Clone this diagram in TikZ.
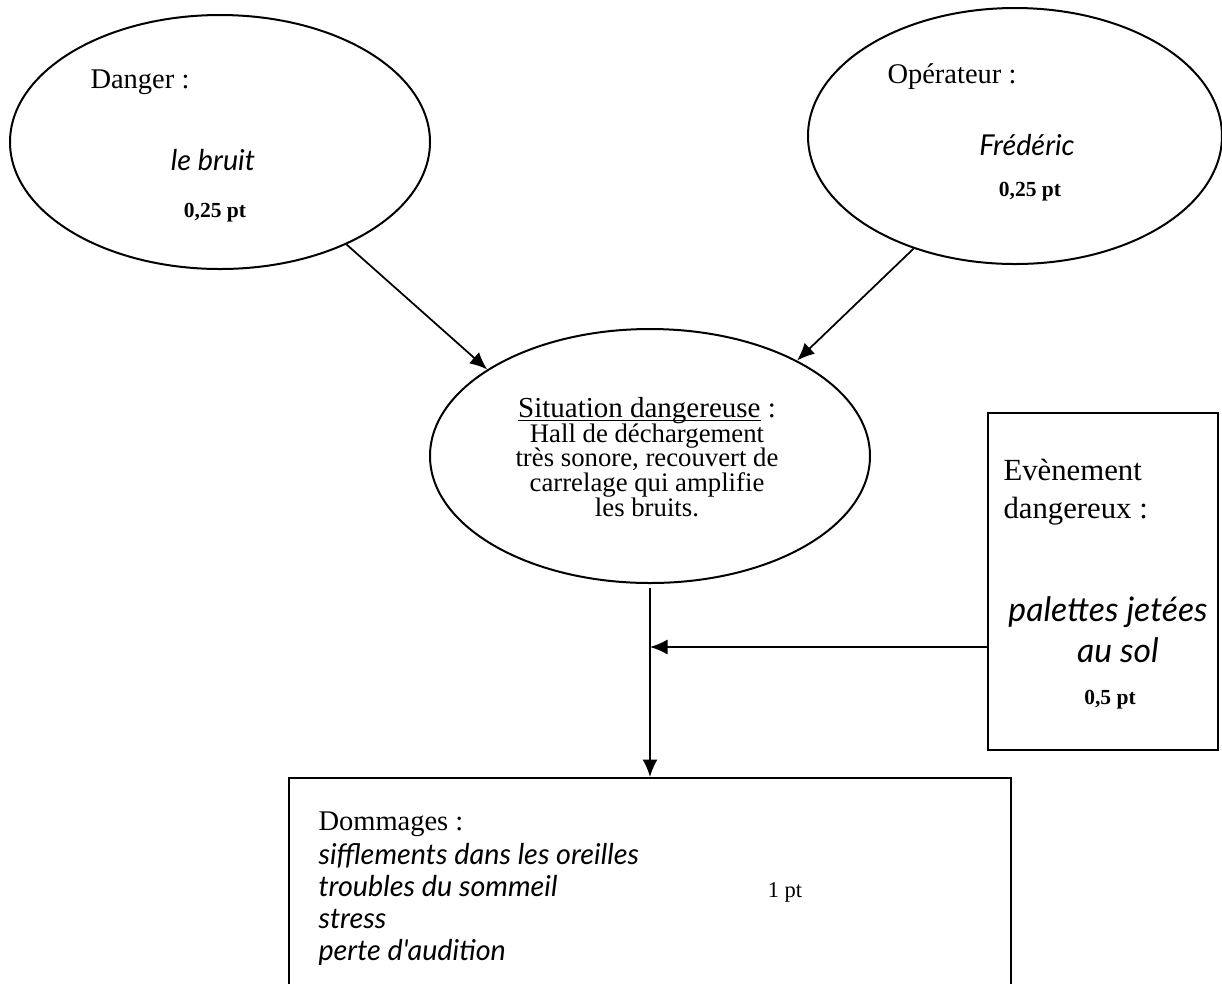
\documentclass[tikz,border=0pt]{standalone}
\usepackage{fontspec}
\setmainfont{Liberation Serif}
\newfontfamily\handfont{Lato}
\usetikzlibrary{shapes.geometric,arrows.meta,positioning}
\newcommand{\souligne}[1]{\setbox0\hbox{#1}\rlap{\rule[-1.5pt]{\wd0}{0.45pt}}\box0\relax}

\begin{document}
\begin{tikzpicture}[x=0.4pt,y=-0.4pt]
\tikzset{every node/.style={inner sep=0pt}}
\tikzset{bulle/.style={draw,ellipse,line width=0.8pt}}
\tikzset{cadre/.style={draw,rectangle,line width=0.8pt}}
\tikzset{fleche/.style={-{Latex[length=7pt,width=6pt]},line width=0.7pt}}
\tikzset{titre/.style={anchor=base west,font=\fontsize{11.4}{13}\selectfont}}
\tikzset{main/.style={font=\fontsize{11.5}{13}\selectfont\handfont\itshape}}
\tikzset{note/.style={font=\fontsize{8.6}{10}\selectfont\bfseries}}

\clip (0,0) rectangle (1222,983);

\node[bulle,minimum width=168pt,minimum height=101.6pt] (danger) at (220,142) {};
\node[bulle,minimum width=165.6pt,minimum height=102.4pt] (operateur) at (1015,136) {};
\node[bulle,minimum width=176pt,minimum height=101.6pt] (situation) at (650,456) {};
\node[cadre,minimum width=92pt,minimum height=134.8pt] (evenement) at (1103,581.5) {};
\node[cadre,minimum width=288.8pt,minimum height=104pt] (dommages) at (650,908) {};

\node[titre] (t-danger) at (90,88) {Danger :};
\node[main] (v-danger) at (213,160) {le bruit};
\node[note] (p-danger) at (215,213) {0,25 pt};

\node[titre] (t-operateur) at (887,83) {Opérateur :};
\node[main] (v-operateur) at (1027,145) {Frédéric};
\node[note] (p-operateur) at (1030,192) {0,25 pt};

\node[align=center,font={\fontsize{10.7}{9.9}\selectfont\lineskiplimit=-20pt}] (t-situation) at (647,457)
  {{\fontsize{11.6}{9.9}\selectfont\souligne{Situation dangereuse} :}\\
   Hall de déchargement\\très sonore, recouvert de\\carrelage qui amplifie\\les bruits.};

\node[titre,font=\fontsize{12.3}{14}\selectfont] (t-evenement) at (1003,480) {Evènement};
\node[titre,font=\fontsize{12.3}{14}\selectfont] (t-evenement2) at (1003,518) {dangereux :};
\node[main,font=\fontsize{13.5}{15}\selectfont\handfont\itshape] (v-evenement) at (1108,612) {palettes jetées};
\node[main,font=\fontsize{13.5}{15}\selectfont\handfont\itshape] (v-evenement2) at (1118,650) {au sol};
\node[note] (p-evenement) at (1110,700) {0,5 pt};

\node[titre] (t-dommages) at (318,830) {Dommages :};
\node[main,anchor=base west] (d1) at (318,864) {sifflements dans les oreilles};
\node[main,anchor=base west] (d2) at (318,896) {troubles du sommeil};
\node[main,anchor=base west] (d3) at (318,928) {stress};
\node[main,anchor=base west] (d4) at (318,960) {perte d'audition};
\node[font=\fontsize{9}{10}\selectfont] (p-dommages) at (785,892) {1 pt};

\coordinate (depart) at (650,588);
\coordinate (jonction) at (650,647);

\draw[fleche] (danger.-39.6) -- (situation.152);
\draw[fleche] (operateur.-132.6) -- (situation.33);
\draw[line width=0.7pt] (depart) -- (jonction);
\draw[fleche] (jonction) -- (dommages.north);
\draw[fleche] (evenement.west |- jonction) -- (jonction);

\end{tikzpicture}
\end{document}
